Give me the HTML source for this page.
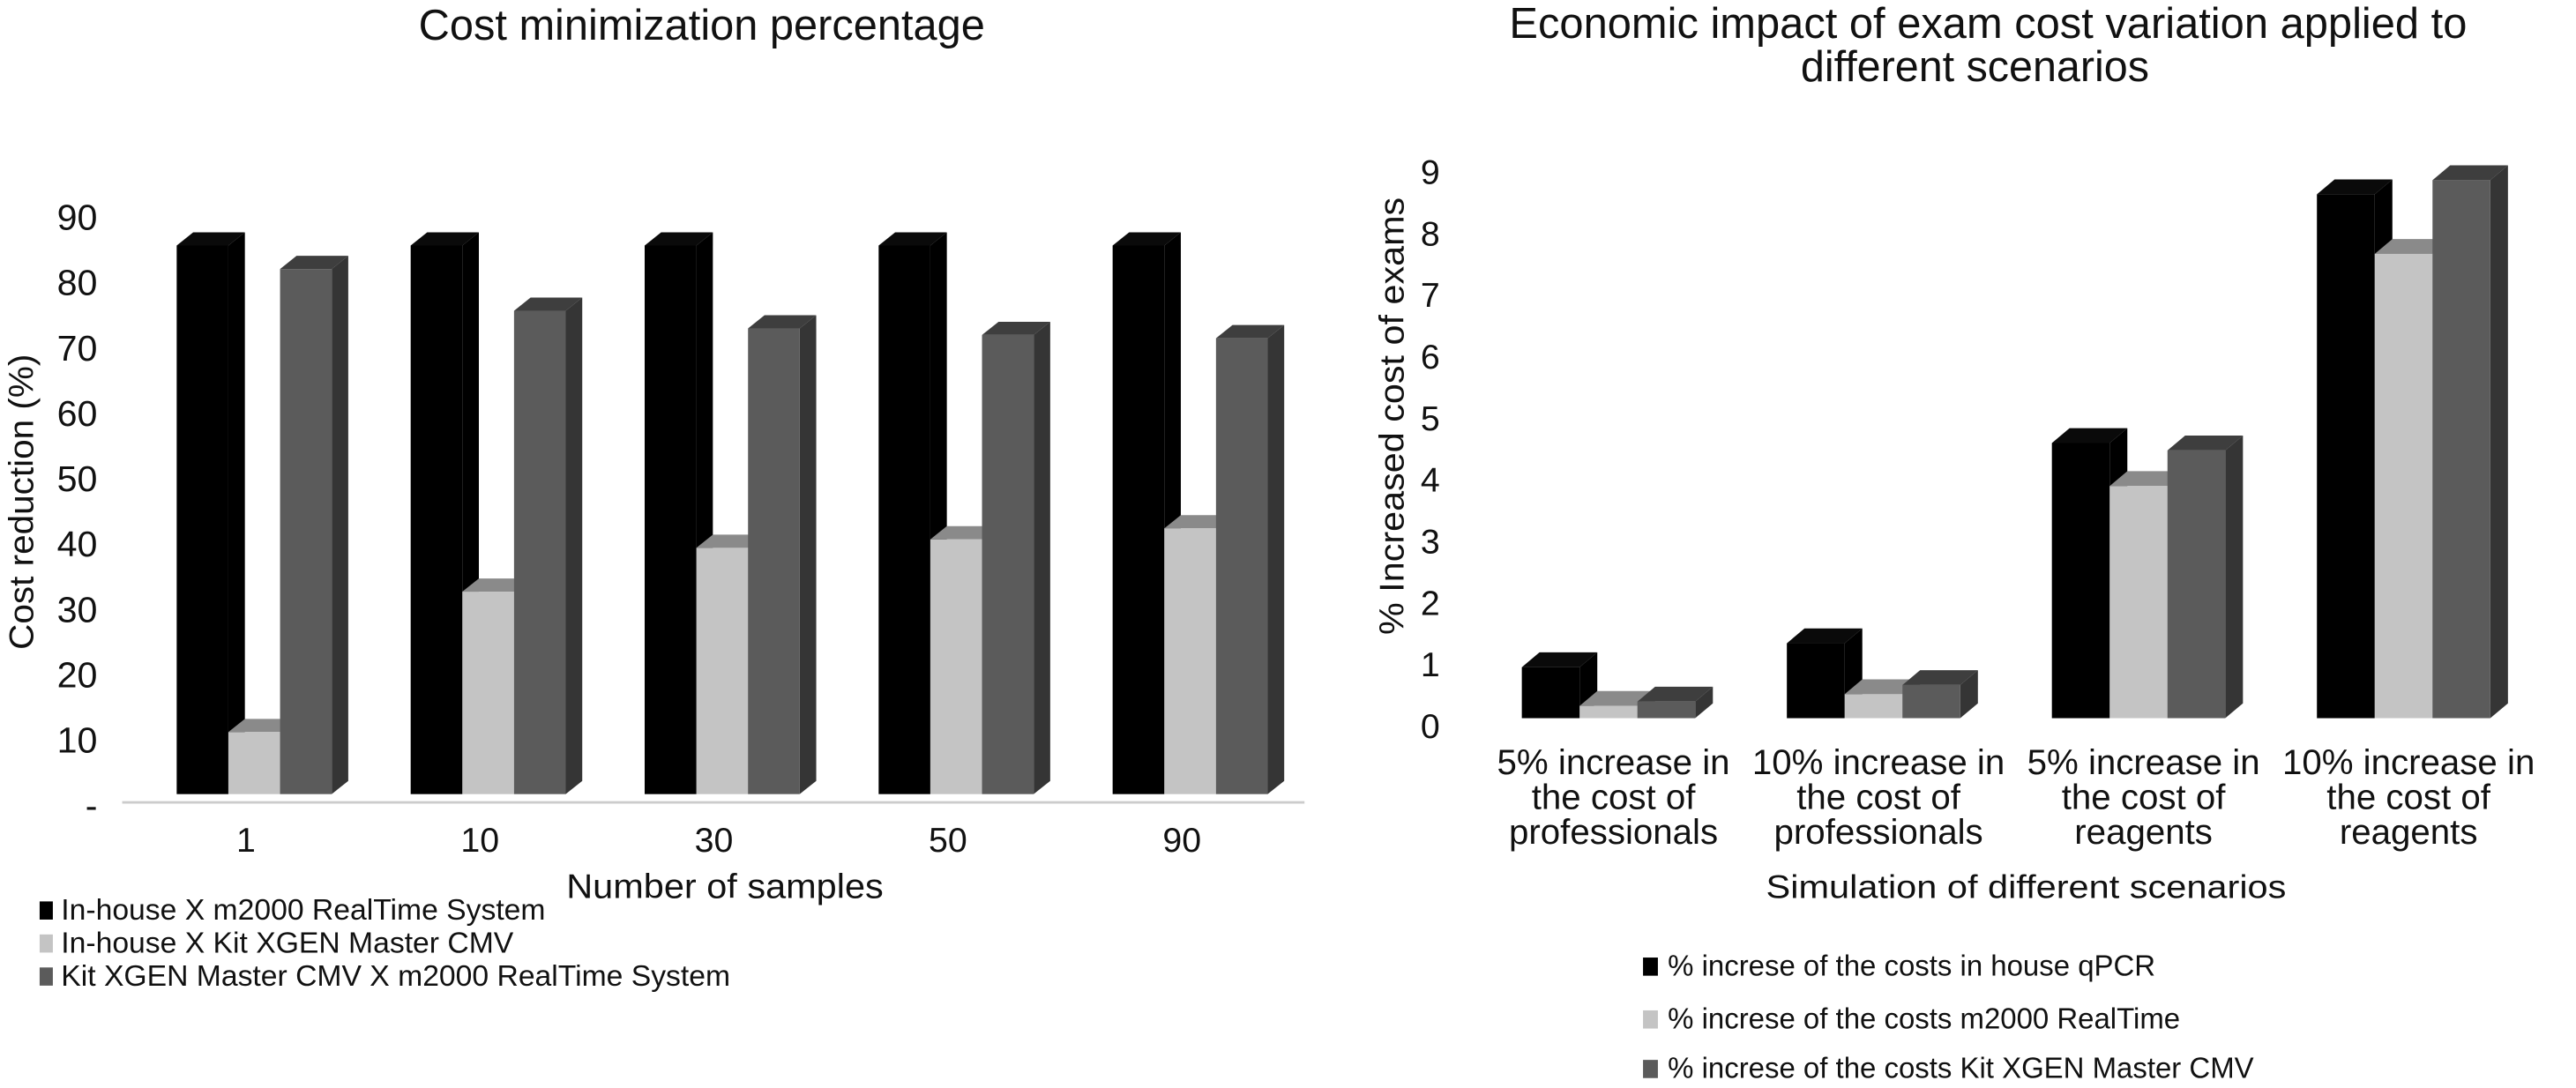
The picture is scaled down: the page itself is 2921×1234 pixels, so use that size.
<!DOCTYPE html>
<html><head><meta charset="utf-8"><style>
html,body{margin:0;padding:0;background:#fff;}
svg{display:block;}
text{font-family:"Liberation Sans",sans-serif;fill:#111;}
.n{font-family:"Liberation Sans Narrow","Liberation Sans",sans-serif;}
</style></head><body>
<svg id="c" width="2921" height="1234" viewBox="0 0 1560 659" xmlns="http://www.w3.org/2000/svg">
<g id="left">
<text x="425" y="24" text-anchor="middle" font-size="26" textLength="343" lengthAdjust="spacingAndGlyphs">Cost minimization percentage</text>
<text transform="translate(20,304) rotate(-90)" text-anchor="middle" font-size="21" textLength="179" lengthAdjust="spacingAndGlyphs">Cost reduction (%)</text>
<line x1="74" y1="486" x2="790" y2="486" stroke="#ccc" stroke-width="1.5"/>
<text class="n" x="439" y="544" text-anchor="middle" font-size="21" textLength="192" lengthAdjust="spacingAndGlyphs">Number of samples</text>
</g>
<g id="right">
<text x="1204" y="23" text-anchor="middle" font-size="26" textLength="580" lengthAdjust="spacingAndGlyphs">Economic impact of exam cost variation applied to</text>
<text x="1196" y="49" text-anchor="middle" font-size="26" textLength="211" lengthAdjust="spacingAndGlyphs">different scenarios</text>
<text transform="translate(850,252) rotate(-90)" text-anchor="middle" font-size="21" textLength="265" lengthAdjust="spacingAndGlyphs">% Increased  cost of exams</text>
<text class="n" x="1227" y="544" text-anchor="middle" font-size="20" textLength="315" lengthAdjust="spacingAndGlyphs">Simulation of different scenarios</text>
</g>
</svg>
<script>
const leftCats=["1","10","30","50","90"];
const leftBlack=[84,84,84,84,84];
const leftGray=[9.5,31,37.7,39,40.7];
const leftDark=[80.4,74,71.3,70.3,69.8];
const leftTicks=["-","10","20","30","40","50","60","70","80","90"];
const leftSeriesNames=["In-house X m2000 RealTime System","In-house X Kit XGEN Master CMV","Kit XGEN Master CMV X m2000 RealTime System"];

const rightCats=[["5% increase in","the cost of","professionals"],["10% increase in","the cost of","professionals"],["5% increase in","the cost of","reagents"],["10% increase in","the cost of","reagents"]];
const rightBlack=[0.83,1.22,4.48,8.53];
const rightGray=[0.2,0.39,3.78,7.56];
const rightDark=[0.27,0.54,4.36,8.76];
const rightTicks=["0","1","2","3","4","5","6","7","8","9"];
const rightSeriesNames=["% increse of the costs in house qPCR","% increse of the costs m2000 RealTime","% increse of the costs Kit XGEN Master CMV"];

const NS="http://www.w3.org/2000/svg";
function mk(tag,attrs,parent,txt){const e=document.createElementNS(NS,tag);for(const k in attrs)e.setAttribute(k,attrs[k]);if(txt!==undefined)e.textContent=txt;parent.appendChild(e);return e;}
const COL=[{f:"#000",t:"#0a0a0a",s:"#000"},{f:"#c4c4c4",t:"#8a8a8a",s:"#a0a0a0"},{f:"#5b5b5b",t:"#3e3e3e",s:"#353535"}];

function drawBar(parent,x,w,yTop,yBot,dx,dy,c,name){
  const g=mk("g",{},parent);
  
  
  mk("polygon",{points:`${x+w},${yTop} ${x+w+dx},${yTop-dy} ${x+w+dx},${yBot-dy} ${x+w},${yBot}`,fill:c.s},g);
  mk("polygon",{points:`${x},${yTop} ${x+dx},${yTop-dy} ${x+w+dx},${yTop-dy} ${x+w},${yTop}`,fill:c.t},g);
  mk("rect",{x:x,y:yTop,width:w,height:yBot-yTop,fill:c.f},g);
}

// LEFT
const L=document.getElementById("left");
const lBase=481,lK=3.956,lX0=107,lStep=141.7,lW=31.3,lDx=10,lDy=8;
const ly=v=>lBase-v*lK;
leftTicks.forEach((t,i)=>{
  const el=mk("text",{class:"n",x:59,y:487.5-i*39.6+8,"text-anchor":"end","font-size":22},L,t);
  
  
});
leftCats.forEach((c,i)=>{
  const gx=lX0+i*lStep;
  [leftBlack,leftGray,leftDark].forEach((arr,s)=>{
    drawBar(L,gx+s*lW,lW,ly(arr[i]),lBase,lDx,lDy,COL[s],'left-bar-'+c+'-s'+(s+1));
  });
  const el=mk("text",{class:"n",x:gx+1.5*lW-5,y:516,"text-anchor":"middle","font-size":21},L,c);
  
  
});
leftSeriesNames.forEach((n,i)=>{
  const g=mk("g",{},L);
  
  
  mk("rect",{x:24,y:546+i*20,width:8,height:11,fill:COL[i].f},g);
  mk("text",{class:"n",x:37,y:557+i*20,"font-size":18},g,n);
});

// RIGHT
const R=document.getElementById("right");
const rBase=435,rK=37.2,rX0=921.6,rStep=160.5,rW=35,rDx=10.7,rDy=9;
const ry=v=>rBase-v*rK;
rightTicks.forEach((t,i)=>{
  const el=mk("text",{class:"n",x:872,y:439-i*37.3+8,"text-anchor":"end","font-size":21},R,t);
  
  
});
rightCats.forEach((lines,i)=>{
  const gx=rX0+i*rStep;
  [rightBlack,rightGray,rightDark].forEach((arr,s)=>{
    drawBar(R,gx+s*rW,rW,ry(arr[i]),rBase,rDx,rDy,COL[s],'right-bar-c'+(i+1)+'-s'+(s+1));
  });
  lines.forEach((ln,j)=>{
    const el=mk("text",{class:"n",x:gx+1.5*rW+3,y:469+j*21,"text-anchor":"middle","font-size":21.5},R,ln);
    
    
  });
});
rightSeriesNames.forEach((n,i)=>{
  const ys=[591,623,653][i];
  const g=mk("g",{},R);
  
  
  mk("rect",{x:995,y:ys-11,width:9,height:11,fill:COL[i].f},g);
  mk("text",{class:"n",x:1010,y:ys,"font-size":17.6},g,n);
});
</script>
</body></html>
